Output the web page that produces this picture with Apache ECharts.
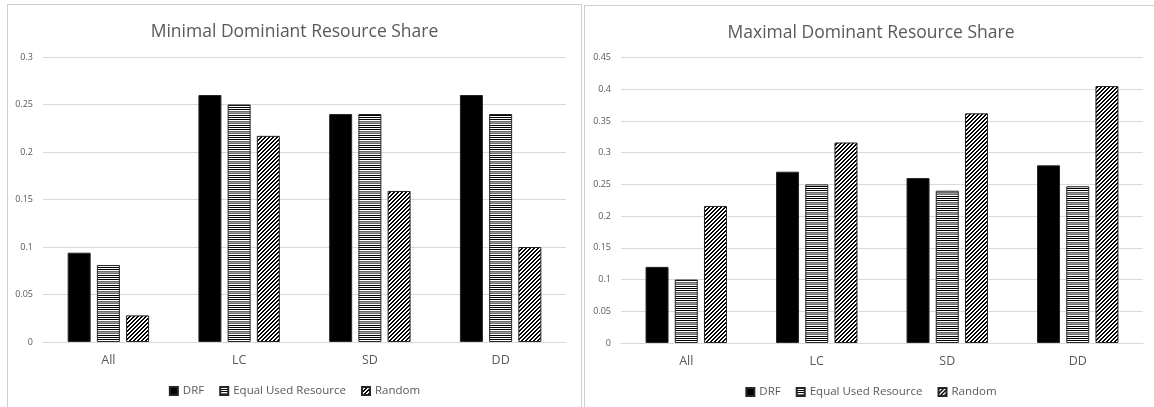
<!DOCTYPE html>
<html>
<head>
<meta charset="utf-8">
<script src="https://cdn.jsdelivr.net/npm/echarts@6/dist/echarts.min.js"></script>
<style>
  html, body { margin: 0; padding: 0; width: 1154px; height: 407px; overflow: hidden; background: #fff; }
  .panel { position: absolute; box-sizing: border-box; border: 1px solid #cfcfcf; background: #fff; }
  #left  { left: 7px;   top: 4px; width: 575px; height: 420px; }
  #right { left: 584px; top: 5px; width: 574px; height: 420px; }
</style>
</head>
<body>
<div id="left" class="panel"></div>
<div id="right" class="panel"></div>
<script>
// Categories and series shared by both charts
const categories = ['All', 'LC', 'SD', 'DD'];
const seriesNames = ['DRF', 'Equal Used Resource', 'Random'];

// Minimal dominant resource share
const minDRF    = [0.094, 0.26, 0.24, 0.26];
const minEqual  = [0.081, 0.25, 0.24, 0.24];
const minRandom = [0.028, 0.217, 0.159, 0.10];

// Maximal dominant resource share
const maxDRF    = [0.12, 0.27, 0.26, 0.28];
const maxEqual  = [0.10, 0.25, 0.24, 0.247];
const maxRandom = [0.216, 0.316, 0.362, 0.405];

const titles = ['Minimal Dominiant Resource Share', 'Maximal Dominant Resource Share'];
const yMax = [0.3, 0.45];
const yStep = 0.05;

const FONT = '"Open Sans", "Noto Sans", sans-serif';
const TEXT = '#595959';

// Fill patterns: narrow horizontal stripes and dark upward diagonals
function stripePattern() {
  const rows = ['#000', '#fff', '#000', '#fff', '#000', '#fff', '#6e6e6e', '#999', '#6e6e6e', '#fff'];
  const c = document.createElement('canvas');
  c.width = 4; c.height = rows.length;
  const g = c.getContext('2d');
  rows.forEach((col, i) => { g.fillStyle = col; g.fillRect(0, i, 4, 1); });
  return c;
}
function diagonalPattern() {
  const n = 4;
  const c = document.createElement('canvas');
  c.width = n; c.height = n;
  const g = c.getContext('2d');
  g.fillStyle = '#fff'; g.fillRect(0, 0, n, n);
  g.fillStyle = '#000';
  for (let x = 0; x < n; x++) for (let y = 0; y < n; y++) {
    const k = (x + y) % n;
    if (k === 0 || k === 1) g.fillRect(x, y, 1, 1);
  }
  return c;
}
const fills = [
  '#000',
  { image: stripePattern(), repeat: 'repeat' },
  { image: diagonalPattern(), repeat: 'repeat' }
];

function build(el, title, max, series3, grid) {
  const chart = echarts.init(el, null, { renderer: 'canvas' });
  chart.setOption({
    animation: false,
    backgroundColor: '#fff',
    title: {
      text: title, left: 'center', top: 13,
      textStyle: { fontFamily: FONT, fontSize: 17.5, fontWeight: 'normal', color: TEXT }
    },
    legend: {
      data: seriesNames, left: 'center', top: 375,
      itemWidth: 8, itemHeight: 8, itemGap: 15,
      icon: 'rect',
      textStyle: { fontFamily: FONT, fontSize: 11.5, color: TEXT }
    },
    grid: grid,
    xAxis: {
      type: 'category', data: categories,
      axisLine: { lineStyle: { color: '#d9d9d9' } },
      axisTick: { show: false },
      axisLabel: { fontFamily: FONT, fontSize: 12.5, color: TEXT, margin: 12 }
    },
    yAxis: {
      type: 'value', min: 0, max: max, interval: yStep,
      axisLine: { show: false }, axisTick: { show: false },
      splitLine: { lineStyle: { color: '#d9d9d9' } },
      axisLabel: { fontFamily: FONT, fontSize: 9, color: TEXT, margin: 10 }
    },
    series: series3.map((vals, i) => ({
      name: seriesNames[i], type: 'bar', data: vals,
      barWidth: 23, barGap: '27%',
      itemStyle: { color: fills[i], borderColor: '#262626', borderWidth: 1 }
    }))
  });
  return chart;
}

build(document.getElementById('left'), titles[0], yMax[0],
      [minDRF, minEqual, minRandom],
      { left: 35, top: 52, width: 523, height: 285 });
build(document.getElementById('right'), titles[1], yMax[1],
      [maxDRF, maxEqual, maxRandom],
      { left: 36, top: 51.5, width: 522, height: 285.5 });
</script>
</body>
</html>
